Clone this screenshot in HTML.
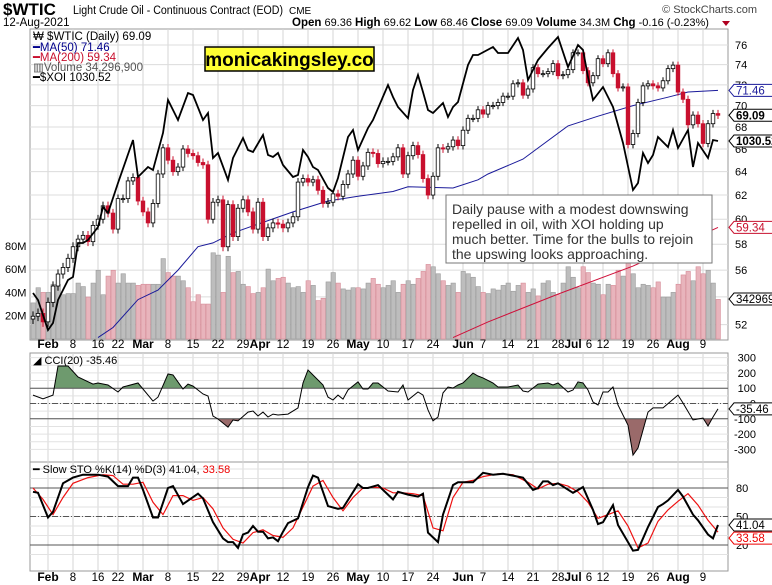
<!DOCTYPE html>
<html><head><meta charset="utf-8">
<style>
html,body{margin:0;padding:0;background:#fff;}
svg{display:block;font-family:"Liberation Sans",Arial,sans-serif;}
</style></head>
<body>
<svg id="chart" width="772" height="585" viewBox="0 0 772 585" xmlns="http://www.w3.org/2000/svg">
  <g>
    <text x="3" y="15" font-size="17" font-weight="bold" fill="#000">$WTIC</text>
    <text x="73" y="14" font-size="11.5" fill="#000" textLength="210" lengthAdjust="spacingAndGlyphs">Light Crude Oil - Continuous Contract (EOD)</text>
    <text x="289" y="14" font-size="10" fill="#000">CME</text>
    <text x="757" y="13" font-size="11" fill="#444" text-anchor="end">© StockCharts.com</text>
    <text x="3" y="26" font-size="11.5" fill="#000">12-Aug-2021</text>
    <text x="292" y="26" font-size="11" fill="#000"><tspan font-weight="bold" font-size="11.5">Open</tspan> 69.36  <tspan font-weight="bold" font-size="11.5">High</tspan> 69.62  <tspan font-weight="bold" font-size="11.5">Low</tspan> 68.46  <tspan font-weight="bold" font-size="11.5">Close</tspan> 69.09  <tspan font-weight="bold" font-size="11.5">Volume</tspan> 34.3M  <tspan font-weight="bold" font-size="11.5">Chg</tspan> -0.16 (-0.23%)</text>
    <path d="M722 21 L730 21 L726 26 Z" fill="#b00020"/>
  </g>
  <g id="grid"></g>
  <g id="main"></g>
  <g id="cci"></g>
  <g id="sto"></g>
  <g id="axes"></g>
  <g font-size="11.5">
    <text x="33" y="40" fill="#000">₩ $WTIC (Daily) 69.09</text>
    <text x="33" y="51" fill="#00008b">━MA(50) 71.46</text>
    <text x="33" y="61" fill="#c8102e">━MA(200) 59.34</text>
    <text x="33" y="71" fill="#555">▥Volume 34,296,900</text>
    <text x="33" y="81" fill="#000">━$XOI 1030.52</text>
  </g>
  <g>
    <rect x="205" y="47" width="169" height="24" fill="#ffff33" stroke="#000" stroke-width="1.5"/>
    <text x="289.5" y="66" font-size="19" font-weight="bold" text-anchor="middle" fill="#000">monicakingsley.co</text>
  </g>
  <g>
    <rect x="446" y="195" width="266" height="68" fill="#fff" stroke="#777" stroke-width="1"/>
    <text font-size="14" fill="#333">
      <tspan x="452" y="214">Daily pause with a modest downswing</tspan>
      <tspan x="452" y="229">repelled in oil, with XOI holding up</tspan>
      <tspan x="452" y="244">much better. Time for the bulls to rejoin</tspan>
      <tspan x="452" y="259">the upswing looks approaching.</tspan>
    </text>
  </g>
  <g><text x="33" y="364" font-size="11" fill="#000">◢ CCI(20) -35.46</text></g>
  <g><text x="33" y="473" font-size="11" fill="#000">━ Slow STO %K(14) %D(3) 41.04, <tspan fill="#e00">33.58</tspan></text></g>
</svg>
<script>
// ---------- DATA ----------
const closes = [52.6,52.8,52.2,
53.6,54.8,55.7,56.2,56.9,57.8,58.4,58.7,58.2,59.5,60.0,61.1,60.5,59.2,61.7,61.7,63.2,63.5,61.5,
60.6,59.7,61.3,63.8,66.1,65.0,64.0,64.4,66.0,65.6,65.4,64.8,64.6,60.0,61.4,61.6,57.8,61.2,58.6,60.9,61.6,60.6,59.2,
61.4,58.6,59.3,59.7,59.6,59.3,59.7,60.2,63.1,63.4,63.1,63.3,62.4,61.3,61.4,62.1,61.9,62.9,63.8,65.0,63.6,
64.5,65.7,65.6,64.7,64.9,64.9,65.3,66.1,63.8,65.4,66.3,65.5,63.4,62.0,63.6,66.1,66.0,66.2,66.8,66.3,
67.7,68.8,68.8,69.6,69.2,70.0,70.0,70.3,70.9,70.9,72.1,72.2,71.0,71.6,73.7,73.1,73.1,73.3,74.1,72.9,73.0,73.5,
75.2,75.2,73.4,72.2,72.9,74.6,74.1,75.2,73.1,71.7,71.8,66.4,67.4,70.3,71.9,72.1,71.9,71.7,72.4,73.6,73.95,
71.3,70.6,68.2,69.1,68.3,66.5,68.3,69.25,69.09];
const firstOpen = 52.4;
const volumes = [31,44,40,
40,47,47,38,39,39,48,45,36,48,59,38,54,59,48,56,48,48,46,
47,47,47,47,69,57,54,54,50,44,32,38,30,30,74,72,40,71,57,58,47,45,39,
40,44,60,50,52,53,48,44,45,40,50,46,33,35,49,57,48,43,42,44,44,
43,48,52,47,44,46,50,40,47,50,47,52,58,64,62,56,50,46,48,40,
58,56,53,45,40,39,43,42,46,48,41,46,48,40,43,37,48,50,40,38,48,62,
53,44,62,57,48,47,38,47,46,59,54,66,56,44,47,46,44,49,36,36,40,
47,55,58,50,62,56,59,48,34];
const ma50Idx = [13,16,21,25,29,33,36,40,45,52,59,65,72,75,84,89,91,98,107,113,120,127,131,137];
const ma50Val = [51.1,51.8,53.8,54.5,56.0,57.8,58.1,58.9,59.6,60.6,61.5,61.9,62.3,62.7,62.6,63.3,63.8,65.1,68.1,69.0,70.0,70.8,71.3,71.46];
const ma200Idx = [84,91,105,120,137];
const ma200Val = [51.1,52.2,54.2,56.3,59.34];
const xoiIdx = [0,1,3,4,5,7,8,9,10,11,13,14,15,17,20,21,23,24,26,27,29,31,32,34,35,36,37,39,40,42,43,44,46,47,48,49,50,52,53,54,55,56,57,59,60,61,63,64,65,67,68,71,72,73,75,76,77,78,79,80,82,83,84,85,87,88,89,92,93,95,97,98,99,101,103,105,107,109,110,111,112,114,116,118,120,121,122,123,124,125,127,128,129,131,132,133,135,136,137];
const xoiVal = [817.7,807.9,765.9,775.7,807.9,835.9,840.1,887.7,887.7,891.9,910.1,938.1,929.7,971.7,1031.9,980.1,994.1,989.9,1041.7,1087.9,1059.9,1097.7,1094.9,1059.9,1069.7,1006.7,1013.7,975.9,1006.7,1034.7,1017.9,1015.1,1038.9,1010.9,1008.1,1013.7,996.9,980.1,982.9,1017.9,1008.1,994.1,989.9,964.7,959.1,978.7,1036.1,1045.9,1017.9,1048.7,1059.9,1108.9,1092.1,1078.1,1062.5,1101.9,1122.9,1099.1,1073.9,1069.7,1083.7,1064.1,1078.1,1085.1,1136.9,1150.9,1150.9,1162.1,1153.7,1153.7,1174.7,1157.9,1115.9,1143.9,1160.7,1176.1,1134.1,1164.9,1157.9,1120.1,1087.9,1106.1,1078.1,1027.7,961.9,971.7,1013.7,999.7,1010.9,1036.1,1022.1,1045.9,1020.7,1045.9,994.1,1027.7,1006.7,1031.9,1030.52];
const cciIdx = [0,2,4,5,7,9,12,13,15,17,18,21,24,25,27,28,30,31,32,34,35,36,37,39,40,41,43,44,45,46,47,48,49,51,53,54,55,58,59,60,61,62,63,65,66,67,68,69,71,73,74,75,77,78,79,80,81,82,83,84,85,86,88,89,90,92,93,95,97,98,99,101,103,104,105,107,108,109,110,111,112,113,114,115,116,117,119,120,121,123,124,126,129,130,132,134,135,136,137];
const cciVal = [55,30,55,245,245,173,127,134,121,75,108,134,16,42,193,186,95,127,114,62,49,-82,-101,-154,-108,-114,-56,-49,-82,-56,-88,-69,-75,-69,-29,134,219,121,42,23,55,29,88,141,95,95,134,134,82,75,121,23,75,55,-42,-114,-88,69,108,101,121,134,199,180,167,134,108,108,121,82,75,127,134,121,134,75,88,141,134,88,10,-10,75,75,108,-10,-141,-337,-291,-56,-29,-29,55,3,-108,-95,-147,-88,-35.46];
const stoKIdx = [0,1,3,4,6,8,10,13,15,17,19,20,21,22,24,25,27,28,30,33,34,36,38,39,40,41,42,43,44,45,46,47,48,49,50,51,53,55,56,57,59,61,62,65,66,67,69,72,73,75,77,78,79,81,82,84,85,88,90,92,94,96,98,100,101,102,103,104,105,108,110,112,113,114,116,117,120,121,123,125,126,127,129,130,132,133,135,136,137];
const stoKVal = [76,75,49,55,85,91,94,94,92,82,82,91,91,78,49,49,80,82,63,74,69,44,27,23,23,17,31,33,40,34,34,27,28,24,34,43,48,81,93,91,61,58,59,84,80,80,83,68,76,73,71,74,33,23,52,83,86,86,96,94,95,93,91,78,80,87,87,83,85,75,81,57,42,44,62,41,14,15,39,60,63,67,78,71,52,46,31,27,41.04];
const stoDIdx = [0,2,4,6,8,11,14,16,18,20,22,24,26,28,30,32,34,36,38,40,42,44,46,48,50,52,54,56,58,60,62,64,66,68,70,72,74,76,78,80,82,84,86,88,90,93,96,99,101,103,105,107,109,111,113,115,117,119,121,123,125,127,129,131,133,135,137];
const stoDVal = [80,68,52,70,85,91,94,93,84,84,86,65,52,72,72,67,70,58,38,26,22,33,36,30,28,38,60,82,88,70,56,70,80,81,80,75,75,74,72,38,35,70,86,88,92,95,94,86,79,84,85,82,76,65,48,52,56,40,17,22,45,57,66,74,62,46,33.58];
const priceTicks = [52,54,56,58,60,62,64,66,68,70,72,74,76];
const volTicks = [20,40,60,80];
const cciTicks = [300,200,100,0,-100,-200,-300];
const stoTicks = [80,50,20];
const dateLabelIdx = [3,8,13,17,22,27,32,37,42,45.4,50,55,60,65,70,75,80,86,90,95,100,105,108,111.2,114,119,124,129,134];
const dateLabelTxt = ['Feb','8','16','22','Mar','8','15','22','29','Apr','12','19','26','May','10','17','24','Jun','7','14','21','28','Jul','6','12','19','26','Aug','9'];
const gridIdx = [3,8,13,17,22,27,32,37,42,45,50,55,60,65,70,75,80,86,90,95,100,105,110,114,119,124,129,134];

// ---------- SCALES ----------
const L=30,R=728, MT=29, MB=340, CT=353, CB=462, ST=462, SB=571;
const x = i => 33 + 5*i;
const py = p => 45 + 737*(Math.log(76)-Math.log(p));
const vy = v => 339 - v*1.165;
const xy = v => 141 - (v-1030.52)/1.4;
const cy = v => 403.5 - v*0.153;
const sy = v => 564 - v*0.95;
const NS='http://www.w3.org/2000/svg';
function mk(tag, attrs, parent){const e=document.createElementNS(NS,tag);for(const k in attrs)e.setAttribute(k,attrs[k]);parent.appendChild(e);return e;}
const svg=document.getElementById('chart');
const grid=document.getElementById('grid'), main=document.getElementById('main'), cci=document.getElementById('cci'), sto=document.getElementById('sto'), axes=document.getElementById('axes');

const defs=mk('defs',{},svg);
const c1=mk('clipPath',{id:'clipMain'},defs); mk('rect',{x:L,y:MT,width:R-L,height:MB-MT},c1);
const c2=mk('clipPath',{id:'clipCci'},defs); mk('rect',{x:L,y:CT,width:R-L,height:CB-CT},c2);
const c3=mk('clipPath',{id:'clipCciUp'},defs); mk('rect',{x:L,y:CT,width:R-L,height:cy(100)-CT},c3);
const c4=mk('clipPath',{id:'clipCciDn'},defs); mk('rect',{x:L,y:cy(-100),width:R-L,height:CB-cy(-100)},c4);
main.setAttribute('clip-path','url(#clipMain)');

[[MT,MB],[CT,CB],[ST,SB]].forEach(([t,b])=>{
  const r=mk('rect',{x:L,y:t,width:R-L,height:b-t,fill:'#fff',stroke:'#999','stroke-width':1},grid);
  
  
});
gridIdx.forEach(i=>{
  [[MT,MB],[CT,CB],[ST,SB]].forEach(([t,b])=>{
    const l=mk('line',{x1:x(i),x2:x(i),y1:t,y2:b,stroke:'#d4d4d4','stroke-width':1},grid);
    
    
  });
});
priceTicks.forEach(p=>{
  const l=mk('line',{x1:L,x2:R,y1:py(p),y2:py(p),stroke:'#dcdcdc'},grid);
  
  
});
for(let v=-300;v<=300;v+=50){
  const l=mk('line',{x1:L,x2:R,y1:cy(v),y2:cy(v),stroke:'#e2e2e2'},grid);
  
  
}
for(let v=10;v<=100;v+=10){
  const l=mk('line',{x1:L,x2:R,y1:sy(v),y2:sy(v),stroke:'#e2e2e2'},grid);
  
  
}

volumes.forEach((v,i)=>{
  const prev = i===0?firstOpen:closes[i-1];
  const down = closes[i]<prev;
  const b=mk('rect',{x:x(i)-2,y:vy(v),width:4.4,height:339-vy(v),fill:down?'#e8b4bc':'#bdbdbd',stroke:down?'#d68a96':'#9a9a9a','stroke-width':0.6},main);
  
  
});
function poly(idx,vals,fy,attrs,parent,name){
  const pts=idx.map((i,k)=>x(i)+','+fy(vals[k]).toFixed(1)).join(' ');
  const p=mk('polyline',Object.assign({points:pts,fill:'none'},attrs),parent);
  
  
  return p;
}
poly(ma200Idx,ma200Val,py,{stroke:'#d0103a','stroke-width':1},main,'ma200-line');
poly(ma50Idx,ma50Val,py,{stroke:'#1a1a9a','stroke-width':1},main,'ma50-line');
closes.forEach((c,i)=>{
  const o = i===0?firstOpen:closes[i-1];
  const hi=Math.max(o,c)+0.35, lo=Math.min(o,c)-0.35;
  const down=c<o;
  const col=down?'#c8102e':'#000';
  const w=mk('line',{x1:x(i),x2:x(i),y1:py(hi),y2:py(lo),stroke:col,'stroke-width':1},main);
  
  
  const top=py(Math.max(o,c)), bot=py(Math.min(o,c));
  const b=mk('rect',{x:x(i)-1.8,y:top,width:3.6,height:Math.max(1,bot-top),fill:down?'#c8102e':'#fff',stroke:col,'stroke-width':0.8},main);
  
  
});
poly(xoiIdx,xoiVal,xy,{stroke:'#000','stroke-width':1.8},main,'xoi-line');

cci.setAttribute('clip-path','url(#clipCci)');
const cciPts=cciIdx.map((i,k)=>[x(i),cy(cciVal[k])]);
const upPoly=mk('polygon',{points:`${x(cciIdx[0])},${cy(100)} `+cciPts.map(p=>p.join(',')).join(' ')+` ${x(cciIdx[cciIdx.length-1])},${cy(100)}`,fill:'#6e9a6e',stroke:'none','clip-path':'url(#clipCciUp)'},cci);


const dnPoly=mk('polygon',{points:`${x(cciIdx[0])},${cy(-100)} `+cciPts.map(p=>p.join(',')).join(' ')+` ${x(cciIdx[cciIdx.length-1])},${cy(-100)}`,fill:'#9a6a6a',stroke:'none','clip-path':'url(#clipCciDn)'},cci);


[[100,''],[-100,''],[0,'6,2,1,2']].forEach(([v,d])=>{
  const l=mk('line',{x1:L,x2:R,y1:cy(v),y2:cy(v),stroke:'#555','stroke-width':1,'stroke-dasharray':d},cci);
  
  
});
poly(cciIdx,cciVal,cy,{stroke:'#000','stroke-width':1},cci,'cci-line');

[[80,''],[20,''],[50,'6,2,1,2']].forEach(([v,d])=>{
  const l=mk('line',{x1:L,x2:R,y1:sy(v),y2:sy(v),stroke:'#555','stroke-width':1,'stroke-dasharray':d},sto);
  
  
});
poly(stoDIdx,stoDVal,sy,{stroke:'#ee1111','stroke-width':1.2},sto,'sto-d-line');
poly(stoKIdx,stoKVal,sy,{stroke:'#000','stroke-width':2},sto,'sto-k-line');

function txt(s,attrs,name){const t=mk('text',Object.assign({'font-size':11,fill:'#000'},attrs),axes);t.textContent=s;return t;}
priceTicks.forEach(p=>txt(String(p),{x:735,y:py(p)+4},'price-tick-label'));
volTicks.forEach(v=>txt(v+'M',{x:5,y:vy(v)+4},'volume-tick-label'));
cciTicks.forEach(v=>txt(String(v),{x:756,y:cy(v)+4,'text-anchor':'end'},'cci-tick-label'));
stoTicks.forEach(v=>txt(String(v),{x:736,y:sy(v)+4},'sto-tick-label'));
dateLabelIdx.forEach((i,k)=>{
  const isMonth=isNaN(+dateLabelTxt[k]);
  [348,581].forEach(yy=>{
    txt(dateLabelTxt[k],{x:x(i),y:yy,'text-anchor':'middle','font-size':isMonth?12:11.5,'font-weight':isMonth?'bold':'normal'},'date-tick-label');
  });
});
function tag(y,label,color,bold,name){
  const g=mk('g',{},axes);
  
  
  const w=bold?47:44;
  mk('polygon',{points:`729,${y} 734,${y-6} ${734+w},${y-6} ${734+w},${y+6} 734,${y+6}`,fill:'#fff',stroke:color,'stroke-width':1},g);
  const t=mk('text',{x:736,y:y+4,'font-size':11.5,'font-weight':bold?'bold':'normal',fill:bold?'#000':color},g);
  t.textContent=label;
}
tag(py(71.46),'71.46','#1a1a9a',false,'ma50-value-tag');
tag(py(69.09),'69.09','#000',true,'price-value-tag');
tag(xy(1030.52),'1030.52','#000',true,'xoi-value-tag');
tag(py(59.34),'59.34','#c8102e',false,'ma200-value-tag');
tag(vy(34.3),'34296900','#000',false,'volume-value-tag');
tag(cy(-35.46),'-35.46','#000',false,'cci-value-tag');
tag(sy(41.04),'41.04','#000',false,'sto-k-value-tag');
tag(sy(33.58)+6,'33.58','#e00',false,'sto-d-value-tag');
</script>
</body></html>
